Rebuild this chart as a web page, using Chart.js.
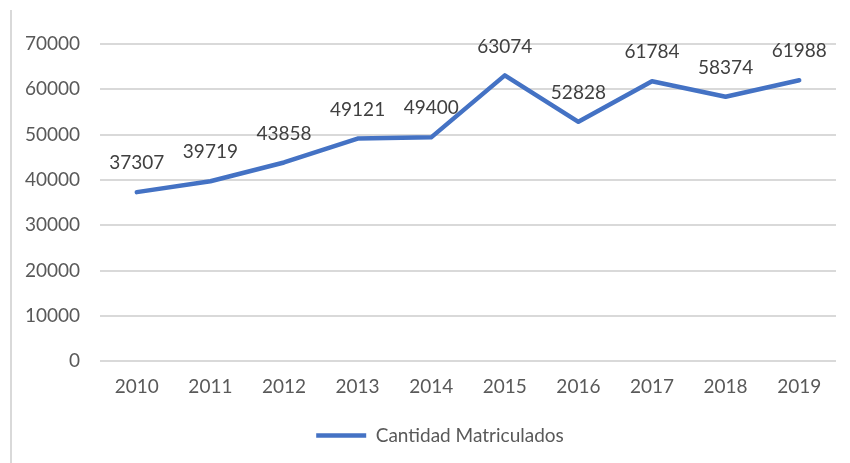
<!DOCTYPE html>
<html>
<head>
<meta charset="utf-8">
<script src="https://cdn.jsdelivr.net/npm/chart.js@4/dist/chart.umd.min.js"></script>
<style>
html,body{margin:0;padding:0;background:#fff;}
#wrap{position:relative;width:850px;height:463px;}
#edge{position:absolute;left:10px;top:10px;width:0;height:453px;border-left:2px solid #d9d9d9;}
canvas{position:absolute;left:0;top:0;}
</style>
</head>
<body>
<div id="wrap"><div id="edge"></div><canvas id="c" width="850" height="463"></canvas></div>
<script>
const categories = ['2010','2011','2012','2013','2014','2015','2016','2017','2018','2019'];
const seriesName = 'Cantidad Matriculados';
const values = [37307, 39719, 43858, 49121, 49400, 63074, 52828, 61784, 58374, 61988];
const yTicks = [0, 10000, 20000, 30000, 40000, 50000, 60000, 70000];

const FONT = 'Lato, "Open Sans", sans-serif';

const dataLabels = {
  id: 'dataLabels',
  afterDatasetsDraw(chart) {
    const ctx = chart.ctx;
    const meta = chart.getDatasetMeta(0);
    ctx.save();
    ctx.font = '19px ' + FONT;
    ctx.fillStyle = '#404040';
    ctx.textAlign = 'center';
    ctx.textBaseline = 'middle';
    meta.data.forEach((pt, i) => {
      ctx.fillText(String(values[i]), pt.x, pt.y - 29);
    });
    ctx.restore();
  }
};

const legendShift = {
  id: 'legendShift',
  afterLayout(chart) {
    const lg = chart.legend;
    if (lg) { lg.left += 22; lg.right += 22; }
  }
};

new Chart(document.getElementById('c'), {
  type: 'line',
  data: {
    labels: categories,
    datasets: [{
      label: seriesName,
      data: values,
      borderColor: '#4472C4',
      backgroundColor: '#4472C4',
      borderWidth: 4.5,
      borderCapStyle: 'round',
      borderJoinStyle: 'round',
      pointRadius: 0,
      pointHoverRadius: 0,
      tension: 0,
      fill: false
    }]
  },
  options: {
    responsive: false,
    animation: false,
    layout: { padding: { left: 0, right: 14, top: 44, bottom: 8 } },
    plugins: {
      legend: {
        position: 'bottom',
        labels: {
          usePointStyle: true,
          pointStyle: 'line',
          pointStyleWidth: 50,
          boxWidth: 50,
          color: '#595959',
          font: { family: FONT, size: 19 },
          padding: 14
        }
      },
      tooltip: { enabled: false }
    },
    scales: {
      x: {
        offset: true,
        grid: { display: false, drawTicks: false, offset: true },
        border: { display: false },
        ticks: { color: '#595959', font: { family: FONT, size: 19 }, padding: 14 }
      },
      y: {
        min: 0,
        max: 70000,
        afterBuildTicks(scale) { scale.ticks = yTicks.map(v => ({ value: v })); },
        afterFit(scale) { scale.width = 100; },
        grid: { color: '#d9d9d9', lineWidth: 2, drawTicks: false },
        border: { display: false },
        ticks: { color: '#595959', font: { family: FONT, size: 19 }, padding: 20, callback: v => String(v) }
      }
    }
  },
  plugins: [dataLabels, legendShift]
});
</script>
</body>
</html>
